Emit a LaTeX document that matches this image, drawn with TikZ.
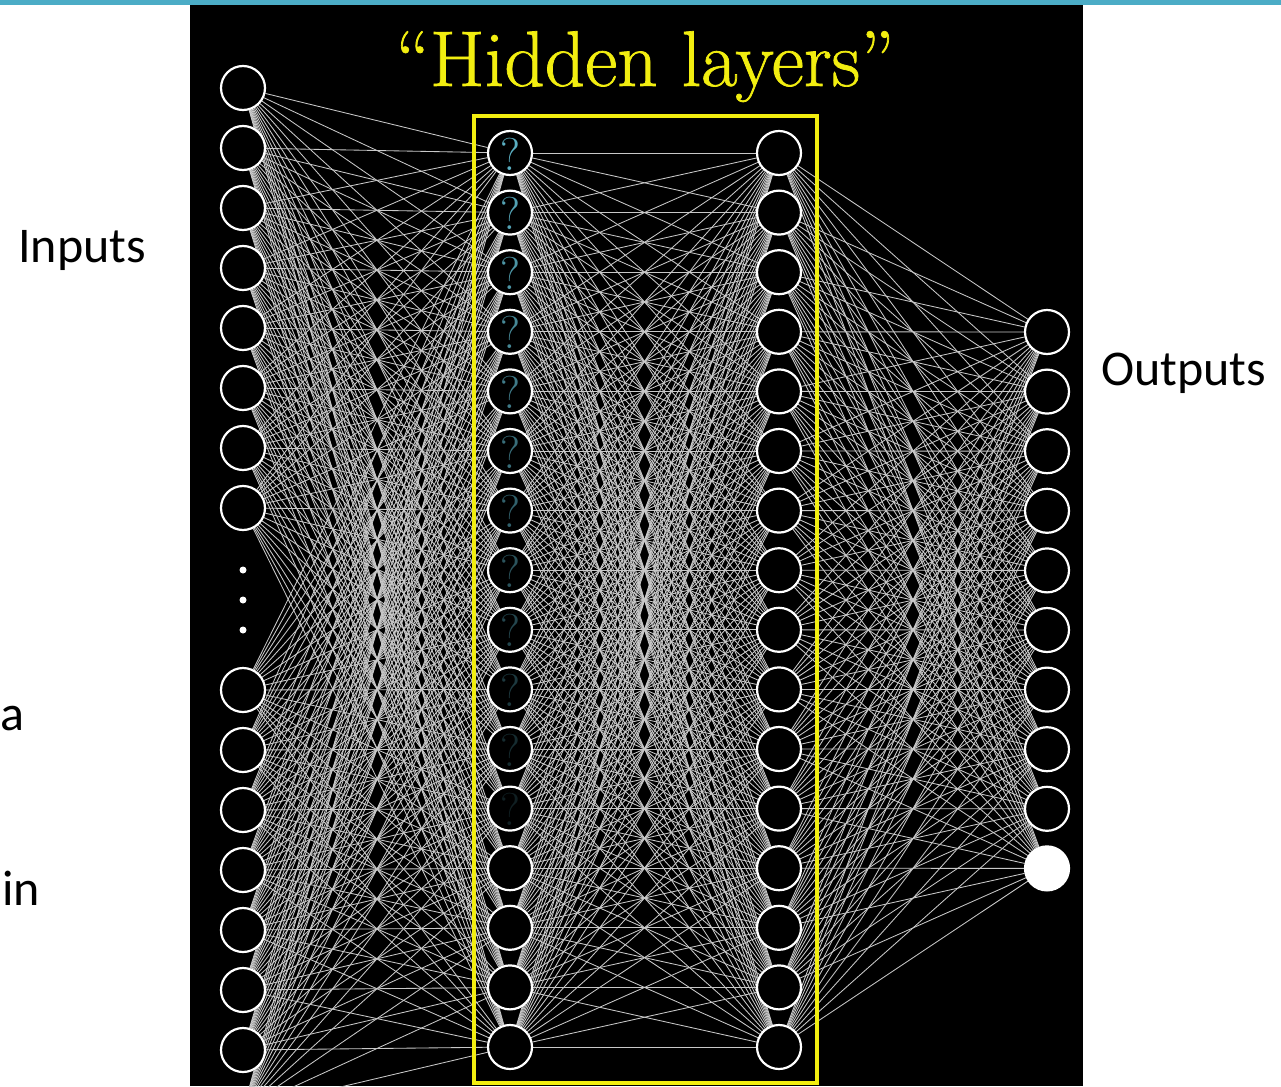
\documentclass[tikz,border=0pt]{standalone}
\usepackage{fontspec}
\newfontfamily\lblfont{Carlito}
\newfontfamily\titlefont[FakeBold=0.9,Ligatures=TeX]{Latin Modern Roman}
\definecolor{topbar}{HTML}{4BACC6}
\definecolor{ylw}{HTML}{F2EE10}
\definecolor{linkgray}{HTML}{C8C8C8}
\definecolor{qteal}{HTML}{5AAFC2}
\pgfdeclarelayer{bg}
\pgfdeclarelayer{links}
\pgfsetlayers{bg,links,main}
\begin{document}
\begin{tikzpicture}[x=1pt,y=-1pt,
  neuron/.style={circle,draw=white,line width=2.2pt,fill=black,minimum size=44pt,inner sep=0pt},
  neuronfull/.style={neuron,fill=white},
  link/.style={draw=linkgray,line width=0.85pt},
  lbl/.style={font=\lblfont\fontsize{50}{60}\selectfont,text=black,anchor=base west,inner sep=0pt},
  qm/.style={font=\fontsize{46}{46}\selectfont,inner sep=0pt},
  hbox/.style={draw=ylw,line width=3.5pt}]
\useasboundingbox (0,0) rectangle (1281,1086);
\begin{pgfonlayer}{bg}
  \fill[white] (0,0) rectangle (1281,1086);
  \fill[topbar] (0,0) rectangle (1281,5);
  \fill[black] (190,5) rectangle (1083,1086);
\end{pgfonlayer}
% input layer
\foreach \k in {1,...,8} \node[neuron] (i\k) at (243,{88+60*(\k-1)}) {};
\foreach \k in {9,...,16} \node[neuron] (i\k) at (243,{690+60*(\k-9)}) {};
\foreach \k/\yy in {1/570,2/600,3/630} \fill[white] (243,\yy) circle (3.5);
% hidden layers
\foreach \k in {1,...,16} {
  \node[neuron] (h\k) at (510,{153+59.6*(\k-1)}) {};
  \node[neuron] (g\k) at (779,{153+59.6*(\k-1)}) {};
}
% output layer
\foreach \k in {1,...,9} \node[neuron] (o\k) at (1047,{332+59.6*(\k-1)}) {};
\node[neuronfull] (o10) at (1047,{332+59.6*9}) {};
% question marks
\foreach \k in {1,...,12} {
  \pgfmathsetmacro{\shade}{max(10,100-7.5*(\k-1))}
  \node[qm,text=qteal!\shade!black] (q\k) at ([yshift=-1pt]h\k.center) {?};
}
% connections
\begin{pgfonlayer}{links}
\foreach \a in {1,...,16} {
  \foreach \b in {1,...,16} {
    \draw[link] (i\a) -- (h\b);
    \draw[link] (h\a) -- (g\b);
  }
  \foreach \b in {1,...,10} \draw[link] (g\a) -- (o\b);
}
\end{pgfonlayer}
% yellow box and title
\draw[hbox] (474,116) rectangle (817,1083);
\node[text=ylw,font=\titlefont\fontsize{79}{90}\selectfont,anchor=base,inner sep=0pt] (title) at (645,86) {``Hidden layers''};
% labels
\node[lbl] (inputs) at (18,262) {Inputs};
\node[lbl] (outputs) at (1101,385) {Outputs};
\node[lbl] (la) at (0,730) {a};
\node[lbl] (lin) at (2,905) {in};
\end{tikzpicture}
\end{document}
